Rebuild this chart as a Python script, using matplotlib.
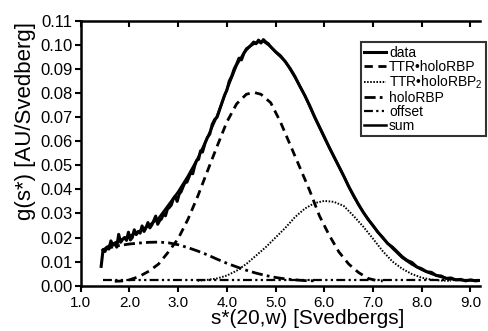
import matplotlib
matplotlib.use("Agg")
import matplotlib.pyplot as plt

plt.rcParams["font.family"] = ["Liberation Sans", "DejaVu Sans"]
plt.rcParams["mathtext.fontset"] = "custom"
plt.rcParams["mathtext.rm"] = "Liberation Sans"

# measured data (noisy)
s_data = [1.42, 1.46, 1.50, 1.54, 1.58, 1.62, 1.66, 1.70, 1.74, 1.78, 1.82, 1.86,
          1.90, 1.94, 1.98, 2.02, 2.06, 2.10, 2.14, 2.18, 2.22, 2.26, 2.30, 2.34,
          2.38, 2.42, 2.46, 2.50, 2.54, 2.58, 2.62, 2.66, 2.70, 2.74, 2.78, 2.82,
          2.86, 2.90, 2.94, 2.98, 3.02, 3.06, 3.10, 3.14, 3.18, 3.22, 3.26, 3.30,
          3.34, 3.38, 3.42, 3.46, 3.50, 3.55, 3.60, 3.65, 3.70, 3.75, 3.80, 3.85,
          3.90, 3.95, 4.00, 4.05, 4.10, 4.15, 4.20, 4.25, 4.30, 4.35, 4.40, 4.45,
          4.50, 4.55, 4.60, 4.65, 4.70, 4.75, 4.80, 4.85, 4.90, 5.00, 5.10, 5.20,
          5.30, 5.40, 5.50, 5.60, 5.70, 5.80, 5.90, 6.00, 6.10, 6.20, 6.30, 6.40,
          6.50, 6.60, 6.70, 6.80, 6.90, 7.00, 7.10, 7.20, 7.30, 7.40, 7.50, 7.60,
          7.70, 7.80, 7.90, 8.00, 8.10, 8.20, 8.30, 8.40, 8.50, 8.60, 8.70, 8.80,
          8.90, 9.00, 9.10, 9.20]
g_data = [0.0080, 0.0150, 0.0142, 0.0160, 0.0152, 0.0186, 0.0168, 0.0175, 0.0160, 0.0213, 0.0180, 0.0192,
          0.0200, 0.0188, 0.0222, 0.0190, 0.0200, 0.0232, 0.0212, 0.0225, 0.0218, 0.0248, 0.0225, 0.0240,
          0.0262, 0.0240, 0.0252, 0.0270, 0.0289, 0.0255, 0.0270, 0.0278, 0.0300, 0.0290, 0.0318, 0.0325,
          0.0335, 0.0360, 0.0372, 0.0350, 0.0380, 0.0390, 0.0410, 0.0428, 0.0430, 0.0450, 0.0472, 0.0465,
          0.0498, 0.0520, 0.0525, 0.0560, 0.0555, 0.0590, 0.0615, 0.0630, 0.0670, 0.0690, 0.0700, 0.0730,
          0.0760, 0.0790, 0.0812, 0.0850, 0.0870, 0.0900, 0.0920, 0.0945, 0.0938, 0.0965, 0.0980, 0.0990,
          0.1000, 0.1012, 0.1005, 0.1020, 0.1008, 0.1022, 0.1012, 0.1005, 0.0992, 0.0972, 0.0955, 0.0930,
          0.0902, 0.0868, 0.0828, 0.0790, 0.0748, 0.0702, 0.0660, 0.0618, 0.0575, 0.0535, 0.0495, 0.0455,
          0.0412, 0.0375, 0.0338, 0.0305, 0.0275, 0.0250, 0.0222, 0.0200, 0.0175, 0.0160, 0.0140, 0.0120,
          0.0105, 0.0096, 0.0078, 0.0070, 0.0058, 0.0055, 0.0042, 0.0040, 0.0030, 0.0032, 0.0024, 0.0026,
          0.0020, 0.0024, 0.0020, 0.0022]

# TTR-holoRBP component
s_ttr = [1.7, 1.9, 2.0, 2.2, 2.4, 2.6, 2.8, 3.0, 3.2, 3.4, 3.6, 3.8, 4.0, 4.2, 4.4,
         4.55, 4.7, 4.9, 5.1, 5.3, 5.5, 5.7, 5.9, 6.1, 6.3, 6.5, 6.7, 6.9, 7.1, 7.2]
g_ttr = [0.0018, 0.0020, 0.0024, 0.0038, 0.0060, 0.0090, 0.0140, 0.0195, 0.0275, 0.0370,
         0.0475, 0.0579, 0.0680, 0.0755, 0.0795, 0.0803, 0.0795, 0.0760, 0.0680, 0.0585,
         0.0490, 0.0395, 0.0290, 0.0210, 0.0140, 0.0090, 0.0055, 0.0030, 0.0020, 0.0020]

# TTR-holoRBP2 component
s_ttr2 = [3.4, 3.6, 3.8, 4.0, 4.2, 4.4, 4.6, 4.8, 5.0, 5.2, 5.4, 5.6, 5.8, 6.0, 6.2,
          6.4, 6.6, 6.8, 7.0, 7.2, 7.4, 7.6, 7.8, 8.0, 8.2, 8.4, 8.6]
g_ttr2 = [0.0020, 0.0024, 0.0030, 0.0042, 0.0062, 0.0090, 0.0125, 0.0160, 0.0200, 0.0240,
          0.0285, 0.0320, 0.0343, 0.0352, 0.0348, 0.0331, 0.0290, 0.0245, 0.0195, 0.0143,
          0.0100, 0.0070, 0.0048, 0.0033, 0.0025, 0.0021, 0.0020]

# holoRBP component
s_rbp = [1.45, 1.6, 1.8, 2.0, 2.2, 2.4, 2.6, 2.8, 3.0, 3.2, 3.4, 3.6, 3.8, 4.0, 4.2,
         4.4, 4.6, 4.8, 5.0, 5.2, 5.4, 5.6, 5.8]
g_rbp = [0.0145, 0.0158, 0.0167, 0.0173, 0.0177, 0.0180, 0.0181, 0.0178, 0.0170, 0.0158,
         0.0144, 0.0128, 0.0110, 0.0093, 0.0078, 0.0064, 0.0052, 0.0042, 0.0034, 0.0028,
         0.0024, 0.0021, 0.0020]

# offset
s_off = [1.45, 9.15]
g_off = [0.0022, 0.0022]

# sum of fit
s_sum = [1.45, 1.6, 1.8, 2.0, 2.2, 2.4, 2.6, 2.8, 3.0, 3.2, 3.4, 3.6, 3.8, 4.0, 4.2,
         4.4, 4.6, 4.75, 4.9, 5.0, 5.2, 5.4, 5.6, 5.8, 6.0, 6.2, 6.4, 6.6, 6.8, 7.0,
         7.2, 7.4, 7.6, 7.8, 8.0, 8.2, 8.4, 8.6, 8.8, 9.0, 9.15]
g_sum = [0.0148, 0.0168, 0.0188, 0.0206, 0.0226, 0.0250, 0.0280, 0.0335, 0.0390, 0.0455,
         0.0528, 0.0615, 0.0705, 0.0814, 0.0915, 0.0985, 0.1010, 0.1015, 0.0993, 0.0970,
         0.0932, 0.0865, 0.0790, 0.0700, 0.0615, 0.0535, 0.0455, 0.0372, 0.0305, 0.0248,
         0.0198, 0.0155, 0.0116, 0.0088, 0.0066, 0.0049, 0.0036, 0.0027, 0.0023, 0.0022,
         0.0022]

fig = plt.figure(figsize=(4.89, 3.31), dpi=100)
ax = fig.add_axes([0.165, 0.137, 0.817, 0.800])

ax.plot(s_data, g_data, color="black", lw=2.2, label="data")
ax.plot(s_ttr, g_ttr, color="black", lw=2.0, dashes=(3, 2), label="TTR\u2022holoRBP")
ax.plot(s_ttr2, g_ttr2, color="black", lw=1.4, dashes=(0.8, 0.8), label="TTR\u2022holoRBP$_2$")
ax.plot(s_rbp, g_rbp, color="black", lw=2.0, dashes=(4, 1.5, 1, 1.5), label="holoRBP")
ax.plot(s_off, g_off, color="black", lw=1.6, dashes=(4, 1.5, 1, 1.5, 1, 1.5), label="offset")
ax.plot(s_sum, g_sum, color="black", lw=1.8, label="sum")

ax.set_xlim(1.0, 9.2)
ax.set_ylim(0.0, 0.11)
ax.set_xticks([1.0, 2.0, 3.0, 4.0, 5.0, 6.0, 7.0, 8.0, 9.0])
ax.set_yticks([0.00, 0.01, 0.02, 0.03, 0.04, 0.05, 0.06, 0.07, 0.08, 0.09, 0.10, 0.11])
ax.xaxis.set_major_formatter(matplotlib.ticker.FormatStrFormatter("%.1f"))
ax.yaxis.set_major_formatter(matplotlib.ticker.FormatStrFormatter("%.2f"))

ax.spines["right"].set_visible(False)
for side in ["left", "bottom", "top"]:
    ax.spines[side].set_linewidth(1.8)
ax.tick_params(axis="x", direction="out", length=4.3, width=1.5, labelsize=11, pad=3.5,
               top=True, bottom=True)
ax.tick_params(axis="y", direction="out", length=4.3, width=1.5, labelsize=12, pad=1.5)
# top ticks point inward
for t in ax.xaxis.get_major_ticks():
    t.tick2line.set_marker(matplotlib.lines.TICKDOWN)

ax.set_xlabel("s*(20,w) [Svedbergs]", fontsize=15)
ax.set_ylabel("g(s*) [AU/Svedberg]", fontsize=16)
ax.xaxis.set_label_coords(0.567, -0.09)
ax.yaxis.set_label_coords(-0.111, 0.621)

leg = ax.legend(loc="upper right", bbox_to_anchor=(0.994, 0.873),
                bbox_transform=fig.transFigure, fontsize=10, frameon=True,
                fancybox=False, handlelength=1.6, handletextpad=0.2,
                labelspacing=0.0, borderpad=0.25, borderaxespad=0.0)
leg.get_frame().set_edgecolor("black")
leg.get_frame().set_linewidth(1.5)

plt.savefig("out.png", dpi=100)
